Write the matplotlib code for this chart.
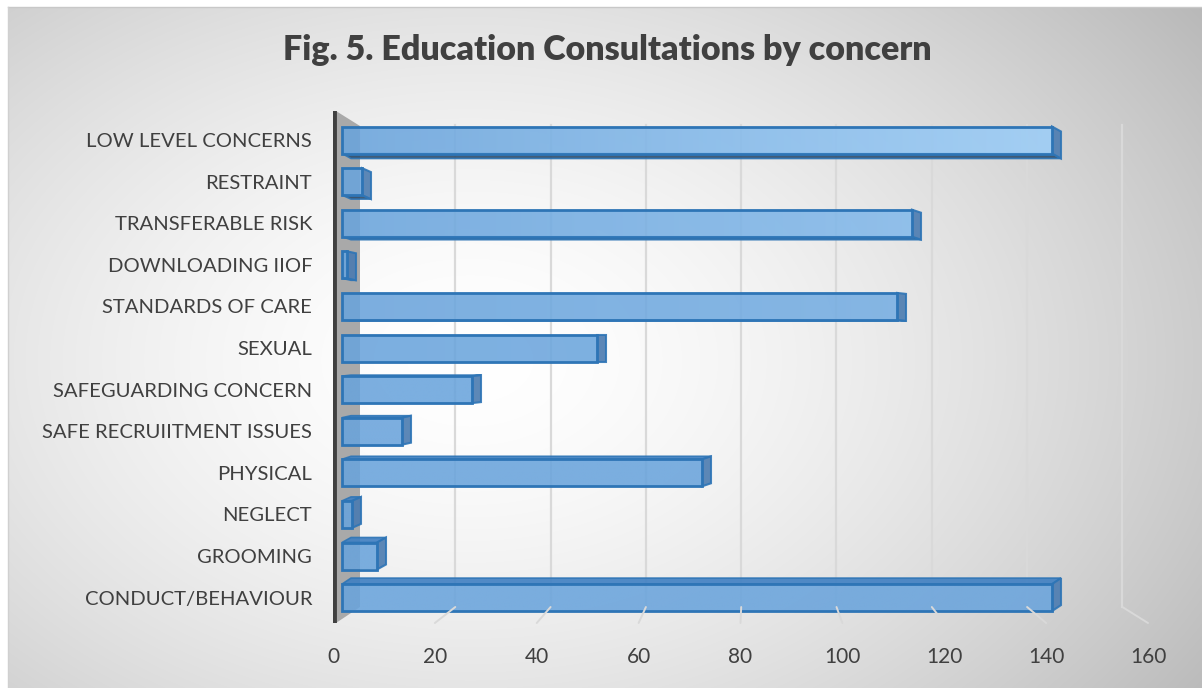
import numpy as np
import matplotlib.pyplot as plt
from matplotlib.patches import Polygon, Rectangle, ConnectionPatch
from matplotlib.colors import to_rgb

categories = ["LOW LEVEL CONCERNS", "RESTRAINT", "TRANSFERABLE RISK", "DOWNLOADING IIOF",
              "STANDARDS OF CARE", "SEXUAL", "SAFEGUARDING CONCERN", "SAFE RECRUIITMENT ISSUES",
              "PHYSICAL", "NEGLECT", "GROOMING", "CONDUCT/BEHAVIOUR"]
counts = [142, 4, 114, 1, 111, 51, 26, 12, 72, 2, 7, 142]
x_ticks = [0, 20, 40, 60, 80, 100, 120, 140, 160]
title = "Fig. 5. Education Consultations by concern"

W, H = 1202, 688
FONT = "Lato"
TXT = "#404040"

# pixel geometry of the pseudo-3d box (front floor plane, bar plane, back wall)
AX_L, AX_R, AX_T, AX_B = 333, 1148, 111, 623
FRONT_0, FRONT_K = 333, 5.095      # label plane: px of zero, px per unit
BAR_0, BAR_K = 342, 5.0            # bar front faces
BACK_0, BACK_K = 360, 4.765        # back wall gridlines
ROW0, ROW_STEP = 140, 41.6         # bar centres in px
BAR_H = 27 / ROW_STEP              # bar height in row units
DEPTH_X = 9 / BAR_K                # side face offset, value units
DEPTH_Y = 1 / ROW_STEP             # px of vertical offset per row away from centre
VP_ROW = 5

fig = plt.figure(figsize=(W / 100, H / 100), dpi=100)

# chart area background: soft radial gradient
bg = fig.add_axes([0, 0, 1, 1])
bg.set_xlim(0, W)
bg.set_ylim(H, 0)
bg.axis("off")
yy, xx = np.mgrid[0:H, 0:W]
d = np.sqrt(((xx - 470) / 820.0) ** 2 + ((yy - 360) / 560.0) ** 2)
shade = 1 - 0.24 * np.clip(d, 0, 1.15) ** 1.6
shade[:7, :] = 1
shade[:, :8] = 1
bg.imshow(np.dstack([shade] * 3), extent=(0, W, H, 0), aspect="auto", zorder=0)
bg.plot([8, W], [7, 7], color="#c8c8c8", lw=1, zorder=1)
bg.plot([8, 8], [7, H], color="#d0d0d0", lw=1, zorder=1)
bg.text(607, 50, title, ha="center", va="center", fontsize=24.5, fontweight="heavy",
        color=TXT, family=FONT)

box = [AX_L / W, 1 - AX_B / H, (AX_R - AX_L) / W, (AX_B - AX_T) / H]


def xlim_for(zero, k):
    return ((AX_L - zero) / k, (AX_R - zero) / k)


# back wall with gridlines
ax_back = fig.add_axes(box)
ax_back.set_xlim(*xlim_for(BACK_0, BACK_K))
ax_back.set_ylim(AX_B, AX_T)
ax_back.axis("off")
for v in x_ticks[1:]:
    ax_back.plot([v, v], [125, 607], color="#d9d9d9", lw=1.6, zorder=1)

# left side wall
wall_x0 = (336 - BACK_0) / BACK_K
ax_back.add_patch(Polygon([(wall_x0, 111), (0, 126), (0, 607), (wall_x0, 623)],
                          closed=True, facecolor="#a9a9a9", edgecolor="none", zorder=2))
ax_back.plot([(334.5 - BACK_0) / BACK_K] * 2, [111, 623], color="#404040", lw=3.5,
             solid_capstyle="round", zorder=3)

# front plane holding the value labels
ax_front = fig.add_axes(box)
ax_front.set_xlim(*xlim_for(FRONT_0, FRONT_K))
ax_front.set_ylim(0, 1)
ax_front.patch.set_alpha(0)
for s in ax_front.spines.values():
    s.set_visible(False)
ax_front.set_yticks([])
ax_front.set_xticks(x_ticks)
ax_front.set_xticklabels([str(t) for t in x_ticks], fontsize=15, color=TXT, family=FONT)
ax_front.tick_params(axis="x", length=0, pad=17)

# floor lines from the wall down to the front edge
for v in x_ticks[1:]:
    con = ConnectionPatch(xyA=(v, 607), coordsA=ax_back.transData,
                          xyB=(v, 0), coordsB=ax_front.transData,
                          color="#d9d9d9", lw=1.4, zorder=1)
    fig.add_artist(con)

# bars
ax = fig.add_axes(box)
xlim = xlim_for(BAR_0, BAR_K)
ylim = ((AX_B - ROW0) / ROW_STEP, (AX_T - ROW0) / ROW_STEP)
ax.patch.set_alpha(0)
for s in ax.spines.values():
    s.set_visible(False)
ax.set_xticks([])
ax.set_yticks(range(len(categories)))
ax.set_yticklabels(categories, fontsize=14.6, color=TXT, family=FONT)
ax.tick_params(axis="y", length=0, pad=15)

edge = "#2e75b6"
base = np.array(to_rgb("#6aa4dc"))
light = np.array(to_rgb("#a3d3fb"))
side_c = "#4b7bb0"
under_c = "#2f4d6b"
top_c = "#3f7fc2"

for i, v in enumerate(counts):
    y0, y1 = i - BAR_H / 2, i + BAR_H / 2
    dy = (VP_ROW - i) * DEPTH_Y
    dx = DEPTH_X
    # underside (rows above the centre) or top face (rows below)
    if dy > 0:
        ax.add_patch(Polygon([(0, y1), (v, y1), (v + dx, y1 + dy), (dx, y1 + dy)],
                             closed=True, facecolor=under_c, edgecolor=edge, lw=1.2,
                             alpha=0.9, zorder=3))
    elif dy < 0:
        ax.add_patch(Polygon([(0, y0), (v, y0), (v + dx, y0 + dy), (dx, y0 + dy)],
                             closed=True, facecolor=top_c, edgecolor=edge, lw=1.2,
                             alpha=0.9, zorder=3))
    # right end face
    ax.add_patch(Polygon([(v, y0), (v + dx, y0 + dy), (v + dx, y1 + dy), (v, y1)],
                         closed=True, facecolor=side_c, edgecolor=edge, lw=1.5,
                         alpha=0.9, zorder=4))
    # front face with a lighting gradient towards the upper right
    lift = max(0.0, 1 - i / 6.0)
    t = np.linspace(0, 1, 200) * (v / 160.0) * lift
    grad = base[None, :] * (1 - t[:, None]) + light[None, :] * t[:, None]
    front = Rectangle((0, y0), v, BAR_H, facecolor="none", edgecolor=edge, lw=2.0, zorder=6)
    ax.add_patch(front)
    im = ax.imshow(grad[None, :, :], extent=(0, v, y1, y0), aspect="auto",
                   alpha=0.88, zorder=5, interpolation="bilinear")
    im.set_clip_path(front)

ax.set_xlim(*xlim)
ax.set_ylim(*ylim)

fig.savefig("out.png", dpi=100)
